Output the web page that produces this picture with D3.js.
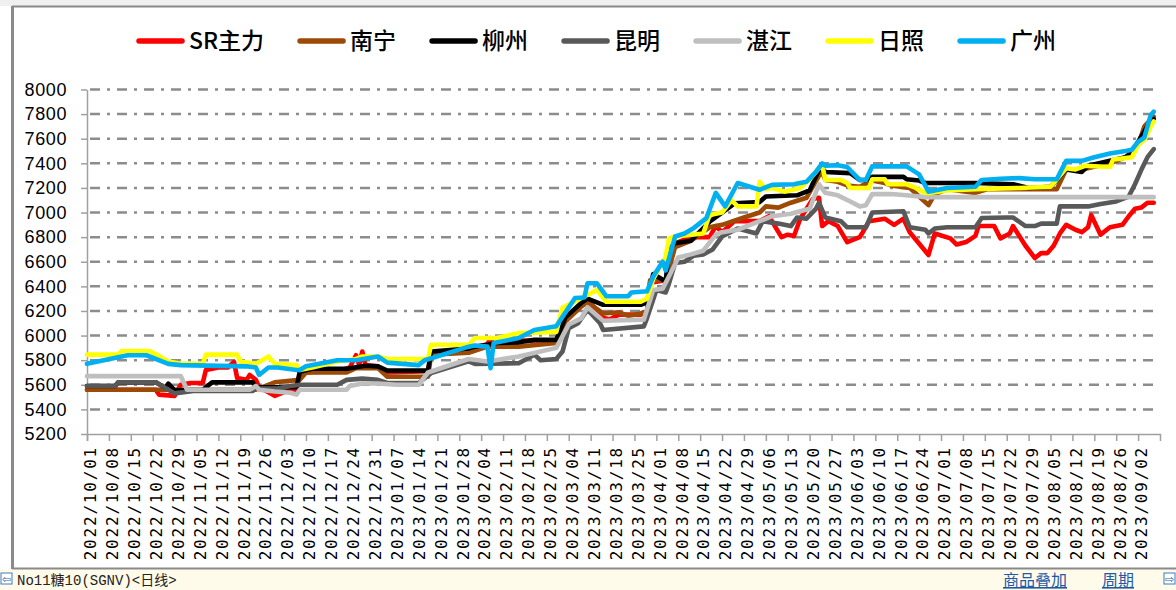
<!DOCTYPE html>
<html>
<head>
<meta charset="utf-8">
<script src="https://cdn.jsdelivr.net/npm/d3@7"></script>
<style>
  body { margin: 0; background: #fff; }
  svg { display: block; }
</style>
</head>
<body>
<script>
'use strict';

(function () {

  // weekly labels on the x axis
  const tickLabels = [
    "2022/10/01", "2022/10/08", "2022/10/15", "2022/10/22", "2022/10/29",
    "2022/11/05", "2022/11/12", "2022/11/19", "2022/11/26", "2022/12/03",
    "2022/12/10", "2022/12/17", "2022/12/24", "2022/12/31", "2023/01/07",
    "2023/01/14", "2023/01/21", "2023/01/28", "2023/02/04", "2023/02/11",
    "2023/02/18", "2023/02/25", "2023/03/04", "2023/03/11", "2023/03/18",
    "2023/03/25", "2023/04/01", "2023/04/08", "2023/04/15", "2023/04/22",
    "2023/04/29", "2023/05/06", "2023/05/13", "2023/05/20", "2023/05/27",
    "2023/06/03", "2023/06/10", "2023/06/17", "2023/06/24", "2023/07/01",
    "2023/07/08", "2023/07/15", "2023/07/22", "2023/07/29", "2023/08/05",
    "2023/08/12", "2023/08/19", "2023/08/26", "2023/09/02"
  ];
  const xDomain = ["2022/10/01", "2023/09/09"];
  const yTicks = [5200, 5400, 5600, 5800, 6000, 6200, 6400, 6600, 6800, 7000, 7200, 7400, 7600, 7800, 8000];

  const seriesNames = ["SR主力", "南宁", "柳州", "昆明", "湛江", "日照", "广州"];
  const seriesColors = ["#ff0000", "#9c4a06", "#000000", "#595959", "#bfbfbf", "#ffff00", "#00b0f0"];

  // SR主力
  const srData = [
    ["2022/10/01", 5560], ["2022/10/23", 5560], ["2022/10/24", 5520], ["2022/10/29", 5510], ["2022/10/30", 5560],
    ["2022/10/31", 5600], ["2022/11/03", 5615], ["2022/11/07", 5615], ["2022/11/08", 5720], ["2022/11/12", 5740],
    ["2022/11/15", 5740], ["2022/11/17", 5785], ["2022/11/18", 5655], ["2022/11/21", 5640], ["2022/11/22", 5680],
    ["2022/11/24", 5640], ["2022/11/25", 5580], ["2022/11/28", 5540], ["2022/11/30", 5510], ["2022/12/01", 5520],
    ["2022/12/05", 5560], ["2022/12/07", 5560], ["2022/12/08", 5695], ["2022/12/12", 5705], ["2022/12/20", 5710],
    ["2022/12/24", 5740], ["2022/12/26", 5840], ["2022/12/27", 5760], ["2022/12/28", 5870], ["2022/12/29", 5760],
    ["2023/01/02", 5750], ["2023/01/05", 5700], ["2023/01/18", 5710], ["2023/01/19", 5860], ["2023/01/31", 5890],
    ["2023/02/06", 5930], ["2023/02/07", 5980], ["2023/02/08", 5930], ["2023/02/16", 5960], ["2023/02/28", 5960],
    ["2023/03/03", 6130], ["2023/03/08", 6255], ["2023/03/10", 6290], ["2023/03/15", 6145], ["2023/03/17", 6130],
    ["2023/03/20", 6170], ["2023/03/27", 6170], ["2023/03/29", 6190], ["2023/03/30", 6430], ["2023/04/04", 6450],
    ["2023/04/07", 6750], ["2023/04/12", 6800], ["2023/04/18", 6800], ["2023/04/20", 6890], ["2023/04/22", 6840],
    ["2023/04/26", 6930], ["2023/05/04", 6930], ["2023/05/07", 6970], ["2023/05/11", 6800], ["2023/05/13", 6820],
    ["2023/05/15", 6810], ["2023/05/17", 6950], ["2023/05/21", 7110], ["2023/05/23", 7120], ["2023/05/24", 6890],
    ["2023/05/26", 6930], ["2023/05/29", 6890], ["2023/06/01", 6760], ["2023/06/05", 6800], ["2023/06/06", 6840],
    ["2023/06/08", 6930], ["2023/06/13", 6950], ["2023/06/16", 6900], ["2023/06/19", 6950], ["2023/06/21", 6840],
    ["2023/06/27", 6655], ["2023/06/29", 6830], ["2023/07/04", 6790], ["2023/07/06", 6740], ["2023/07/09", 6760],
    ["2023/07/12", 6810], ["2023/07/13", 6890], ["2023/07/18", 6890], ["2023/07/20", 6790], ["2023/07/23", 6830],
    ["2023/07/24", 6890], ["2023/07/28", 6730], ["2023/07/31", 6630], ["2023/08/02", 6670], ["2023/08/04", 6670],
    ["2023/08/06", 6730], ["2023/08/08", 6830], ["2023/08/10", 6900], ["2023/08/13", 6860], ["2023/08/15", 6840],
    ["2023/08/17", 6880], ["2023/08/18", 6980], ["2023/08/21", 6820], ["2023/08/24", 6880], ["2023/08/28", 6900],
    ["2023/08/30", 6970], ["2023/09/01", 7030], ["2023/09/03", 7040], ["2023/09/05", 7080], ["2023/09/07", 7080]
  ];

  // 南宁
  const nanningData = [
    ["2022/10/01", 5560], ["2022/11/24", 5560], ["2022/11/30", 5620], ["2022/12/08", 5640], ["2022/12/10", 5700],
    ["2022/12/23", 5700], ["2022/12/26", 5735], ["2023/01/02", 5735], ["2023/01/05", 5665], ["2023/01/18", 5665],
    ["2023/01/19", 5845], ["2023/01/31", 5860], ["2023/02/06", 5910], ["2023/02/16", 5910], ["2023/02/28", 5940],
    ["2023/03/03", 6115], ["2023/03/08", 6235], ["2023/03/10", 6270], ["2023/03/15", 6180], ["2023/03/20", 6190],
    ["2023/03/23", 6160], ["2023/03/27", 6180], ["2023/03/29", 6200], ["2023/03/30", 6450], ["2023/04/04", 6450],
    ["2023/04/07", 6720], ["2023/04/12", 6770], ["2023/04/18", 6880], ["2023/04/22", 6900], ["2023/04/29", 6960],
    ["2023/05/04", 7000], ["2023/05/06", 7050], ["2023/05/10", 7040], ["2023/05/14", 7080], ["2023/05/19", 7120],
    ["2023/05/23", 7300], ["2023/05/24", 7330], ["2023/05/25", 7265], ["2023/05/29", 7250], ["2023/06/01", 7220],
    ["2023/06/05", 7210], ["2023/06/09", 7260], ["2023/06/13", 7240], ["2023/06/15", 7220], ["2023/06/21", 7200],
    ["2023/06/24", 7130], ["2023/06/27", 7060], ["2023/06/29", 7150], ["2023/07/03", 7190], ["2023/07/12", 7160],
    ["2023/07/16", 7190], ["2023/08/07", 7190], ["2023/08/10", 7350], ["2023/08/15", 7350], ["2023/08/24", 7400],
    ["2023/08/30", 7460], ["2023/09/02", 7550], ["2023/09/04", 7700], ["2023/09/07", 7780]
  ];

  // 柳州
  const liuzhouData = [
    ["2022/10/01", 5590], ["2022/10/10", 5590], ["2022/10/11", 5620], ["2022/10/23", 5620], ["2022/10/26", 5575],
    ["2022/10/27", 5610], ["2022/10/29", 5555], ["2022/11/07", 5560], ["2022/11/10", 5620], ["2022/11/23", 5620],
    ["2022/11/24", 5580], ["2022/12/07", 5580], ["2022/12/08", 5705], ["2022/12/12", 5730], ["2022/12/23", 5730],
    ["2022/12/29", 5755], ["2023/01/02", 5750], ["2023/01/05", 5715], ["2023/01/18", 5715], ["2023/01/19", 5870],
    ["2023/01/31", 5895], ["2023/02/02", 5910], ["2023/02/09", 5940], ["2023/02/16", 5945], ["2023/02/21", 5965],
    ["2023/02/28", 5965], ["2023/03/03", 6150], ["2023/03/08", 6265], ["2023/03/10", 6300], ["2023/03/15", 6250],
    ["2023/03/27", 6250], ["2023/03/29", 6270], ["2023/03/31", 6500], ["2023/04/04", 6440], ["2023/04/05", 6700],
    ["2023/04/07", 6750], ["2023/04/12", 6770], ["2023/04/18", 6925], ["2023/04/22", 7000], ["2023/04/26", 7075],
    ["2023/05/04", 7085], ["2023/05/06", 7130], ["2023/05/16", 7140], ["2023/05/20", 7180], ["2023/05/23", 7345],
    ["2023/05/24", 7360], ["2023/05/25", 7330], ["2023/06/02", 7320], ["2023/06/05", 7265], ["2023/06/07", 7265],
    ["2023/06/09", 7290], ["2023/06/19", 7290], ["2023/06/20", 7270], ["2023/06/24", 7260], ["2023/06/26", 7240],
    ["2023/07/12", 7240], ["2023/07/24", 7230], ["2023/07/29", 7200], ["2023/08/05", 7210], ["2023/08/10", 7350],
    ["2023/08/15", 7330], ["2023/08/17", 7380], ["2023/08/24", 7420], ["2023/08/29", 7450], ["2023/08/31", 7490],
    ["2023/09/04", 7660], ["2023/09/06", 7750], ["2023/09/07", 7760]
  ];

  // 昆明
  const kunmingData = [
    ["2022/10/01", 5590], ["2022/10/10", 5590], ["2022/10/11", 5620], ["2022/10/23", 5620], ["2022/10/29", 5530],
    ["2022/11/04", 5550], ["2022/11/23", 5550], ["2022/11/24", 5590], ["2022/11/25", 5570], ["2022/12/01", 5570],
    ["2022/12/05", 5590], ["2022/12/08", 5600], ["2022/12/20", 5600], ["2022/12/23", 5640], ["2022/12/28", 5650],
    ["2023/01/02", 5640], ["2023/01/05", 5615], ["2023/01/15", 5615], ["2023/01/19", 5695], ["2023/01/31", 5790],
    ["2023/02/02", 5770], ["2023/02/16", 5775], ["2023/02/21", 5845], ["2023/02/23", 5800], ["2023/02/28", 5810],
    ["2023/03/02", 5870], ["2023/03/04", 6060], ["2023/03/07", 6100], ["2023/03/10", 6210], ["2023/03/14", 6100],
    ["2023/03/15", 6045], ["2023/03/28", 6075], ["2023/03/29", 6140], ["2023/04/01", 6370], ["2023/04/04", 6350],
    ["2023/04/05", 6420], ["2023/04/07", 6590], ["2023/04/10", 6600], ["2023/04/13", 6650], ["2023/04/16", 6660],
    ["2023/04/19", 6700], ["2023/04/22", 6805], ["2023/04/27", 6870], ["2023/05/03", 6830], ["2023/05/05", 6930],
    ["2023/05/10", 6910], ["2023/05/14", 6890], ["2023/05/16", 6960], ["2023/05/19", 6950], ["2023/05/22", 7030],
    ["2023/05/23", 7080], ["2023/05/25", 6960], ["2023/05/30", 6930], ["2023/06/01", 6880], ["2023/06/07", 6880],
    ["2023/06/09", 7000], ["2023/06/19", 7010], ["2023/06/21", 6880], ["2023/06/26", 6860], ["2023/06/27", 6830],
    ["2023/06/29", 6870], ["2023/07/03", 6880], ["2023/07/12", 6880], ["2023/07/14", 6955], ["2023/07/22", 6960],
    ["2023/07/24", 6960], ["2023/07/28", 6890], ["2023/07/31", 6890], ["2023/08/02", 6910], ["2023/08/07", 6910],
    ["2023/08/08", 7050], ["2023/08/17", 7050], ["2023/08/21", 7070], ["2023/08/26", 7090], ["2023/08/30", 7130],
    ["2023/09/01", 7230], ["2023/09/03", 7345], ["2023/09/05", 7450], ["2023/09/07", 7515]
  ];

  // 湛江
  const zhanjiangData = [
    ["2022/10/01", 5670], ["2022/10/31", 5670], ["2022/11/02", 5560], ["2022/11/22", 5560], ["2022/11/24", 5590],
    ["2022/11/25", 5560], ["2022/11/30", 5545], ["2022/12/05", 5535], ["2022/12/07", 5520], ["2022/12/08", 5560],
    ["2022/12/23", 5560], ["2022/12/24", 5590], ["2022/12/28", 5610], ["2023/01/02", 5610], ["2023/01/08", 5600],
    ["2023/01/15", 5600], ["2023/01/18", 5700], ["2023/01/31", 5810], ["2023/02/06", 5790], ["2023/02/16", 5830],
    ["2023/02/28", 5900], ["2023/03/04", 6090], ["2023/03/08", 6140], ["2023/03/10", 6230], ["2023/03/15", 6120],
    ["2023/03/28", 6130], ["2023/03/31", 6370], ["2023/04/03", 6380], ["2023/04/07", 6580], ["2023/04/08", 6635],
    ["2023/04/12", 6660], ["2023/04/16", 6690], ["2023/04/20", 6820], ["2023/04/22", 6840], ["2023/04/27", 6860],
    ["2023/05/04", 6930], ["2023/05/08", 6970], ["2023/05/14", 6990], ["2023/05/20", 7030], ["2023/05/23", 7230],
    ["2023/05/25", 7160], ["2023/05/29", 7140], ["2023/06/02", 7090], ["2023/06/05", 7050], ["2023/06/07", 7060],
    ["2023/06/09", 7150], ["2023/06/15", 7150], ["2023/06/20", 7140], ["2023/06/26", 7125], ["2023/09/07", 7125]
  ];

  // 日照
  const rizhaoData = [
    ["2022/10/01", 5845], ["2022/10/11", 5845], ["2022/10/12", 5875], ["2022/10/21", 5875], ["2022/10/24", 5835],
    ["2022/10/27", 5790], ["2022/10/31", 5770], ["2022/11/07", 5770], ["2022/11/08", 5845], ["2022/11/18", 5845],
    ["2022/11/19", 5790], ["2022/11/24", 5770], ["2022/11/28", 5830], ["2022/11/30", 5770], ["2022/12/07", 5760],
    ["2022/12/08", 5720], ["2022/12/12", 5740], ["2022/12/20", 5790], ["2022/12/26", 5810], ["2022/12/28", 5830],
    ["2023/01/02", 5830], ["2023/01/05", 5810], ["2023/01/18", 5810], ["2023/01/19", 5925], ["2023/01/31", 5925],
    ["2023/02/02", 5980], ["2023/02/09", 5980], ["2023/02/16", 6020], ["2023/02/28", 6030], ["2023/03/02", 6225],
    ["2023/03/08", 6305], ["2023/03/13", 6370], ["2023/03/16", 6275], ["2023/03/27", 6275], ["2023/03/29", 6300],
    ["2023/03/31", 6460], ["2023/04/04", 6640], ["2023/04/05", 6790], ["2023/04/07", 6805], ["2023/04/16", 6830],
    ["2023/04/18", 6980], ["2023/04/22", 7000], ["2023/04/25", 7100], ["2023/04/27", 7050], ["2023/05/03", 7050],
    ["2023/05/04", 7250], ["2023/05/06", 7190], ["2023/05/08", 7200], ["2023/05/12", 7170], ["2023/05/17", 7200],
    ["2023/05/20", 7270], ["2023/05/24", 7390], ["2023/05/25", 7265], ["2023/05/30", 7265], ["2023/06/01", 7240],
    ["2023/06/02", 7200], ["2023/06/08", 7200], ["2023/06/09", 7270], ["2023/06/13", 7270], ["2023/06/14", 7230],
    ["2023/06/20", 7230], ["2023/06/23", 7200], ["2023/06/26", 7160], ["2023/06/27", 7160], ["2023/07/03", 7180],
    ["2023/07/12", 7190], ["2023/07/26", 7200], ["2023/08/05", 7210], ["2023/08/10", 7360], ["2023/08/13", 7350],
    ["2023/08/16", 7380], ["2023/08/24", 7370], ["2023/08/25", 7430], ["2023/08/31", 7450], ["2023/09/02", 7550],
    ["2023/09/04", 7590], ["2023/09/06", 7700], ["2023/09/07", 7740]
  ];

  // 广州
  const guangzhouData = [
    ["2022/10/01", 5770], ["2022/10/14", 5840], ["2022/10/20", 5840], ["2022/10/27", 5770], ["2022/10/31", 5760],
    ["2022/11/21", 5750], ["2022/11/24", 5740], ["2022/11/25", 5680], ["2022/11/28", 5740], ["2022/12/01", 5740],
    ["2022/12/07", 5720], ["2022/12/08", 5720], ["2022/12/10", 5750], ["2022/12/20", 5800], ["2022/12/26", 5800],
    ["2023/01/02", 5830], ["2023/01/05", 5780], ["2023/01/15", 5760], ["2023/01/17", 5800], ["2023/01/31", 5910],
    ["2023/02/02", 5920], ["2023/02/06", 5910], ["2023/02/07", 5735], ["2023/02/08", 5940], ["2023/02/16", 5980],
    ["2023/02/21", 6045], ["2023/02/28", 6075], ["2023/03/06", 6305], ["2023/03/09", 6310], ["2023/03/10", 6425],
    ["2023/03/13", 6425], ["2023/03/16", 6320], ["2023/03/23", 6320], ["2023/03/24", 6350], ["2023/03/29", 6360],
    ["2023/03/31", 6480], ["2023/04/03", 6600], ["2023/04/04", 6530], ["2023/04/07", 6805], ["2023/04/10", 6830],
    ["2023/04/13", 6875], ["2023/04/17", 6955], ["2023/04/20", 7160], ["2023/04/23", 7050], ["2023/04/27", 7240],
    ["2023/05/04", 7185], ["2023/05/08", 7225], ["2023/05/15", 7230], ["2023/05/19", 7250], ["2023/05/22", 7330],
    ["2023/05/24", 7400], ["2023/05/25", 7380], ["2023/05/29", 7385], ["2023/06/01", 7370], ["2023/06/05", 7265],
    ["2023/06/07", 7265], ["2023/06/09", 7375], ["2023/06/20", 7375], ["2023/06/24", 7310], ["2023/06/27", 7170],
    ["2023/07/03", 7200], ["2023/07/12", 7210], ["2023/07/14", 7265], ["2023/07/20", 7275], ["2023/07/26", 7280],
    ["2023/07/31", 7270], ["2023/08/07", 7270], ["2023/08/10", 7420], ["2023/08/15", 7420], ["2023/08/19", 7450],
    ["2023/08/24", 7480], ["2023/08/29", 7500], ["2023/08/31", 7510], ["2023/09/02", 7575], ["2023/09/04", 7610],
    ["2023/09/06", 7790], ["2023/09/07", 7820]
  ];

  const allSeries = [srData, nanningData, liuzhouData, kunmingData, zhanjiangData, rizhaoData, guangzhouData];

  const parseDate = d3.timeParse("%Y/%m/%d");
  let svgContainer = "";

  window.onload = function () {
    svgContainer = d3.select('body')
      .append('svg')
      .attr('width', 1176)
      .attr('height', 590);

    drawFrame();
    let scales = drawAxes();
    plotData(scales);
    makeLegend();
    makeStatusBar();
  }

  // window border around the chart
  function drawFrame() {
    svgContainer.append('rect')
      .attr('x', 0).attr('y', 0)
      .attr('width', 1176).attr('height', 6)
      .attr('fill', '#f0f0f0');
    svgContainer.append('line')
      .attr('x1', 12).attr('x2', 1176)
      .attr('y1', 6.5).attr('y2', 6.5)
      .attr('stroke', '#8a8a8a')
      .attr('stroke-width', 2);
    svgContainer.append('line')
      .attr('x1', 12.5).attr('x2', 12.5)
      .attr('y1', 6).attr('y2', 569)
      .attr('stroke', '#8a8a8a')
      .attr('stroke-width', 3);
  }

  function drawAxes() {
    let xScale = d3.scaleTime()
      .domain(xDomain.map(parseDate))
      .range([87, 1160]);

    let yScale = d3.scaleLinear()
      .domain([5200, 8000])
      .range([434, 89.5]);

    // dash-dot horizontal grid
    svgContainer.append('g')
      .selectAll('line')
      .data(yTicks.slice(1))
      .enter()
      .append('line')
      .attr('x1', 90)
      .attr('x2', 1160)
      .attr('y1', (d) => yScale(d))
      .attr('y2', (d) => yScale(d))
      .attr('stroke', '#8c8c8c')
      .attr('stroke-width', 2.5)
      .attr('stroke-dasharray', '10,7,3,7');

    // y axis
    let yAxis = d3.axisLeft(yScale)
      .tickValues(yTicks)
      .tickSize(6)
      .tickSizeOuter(0)
      .tickPadding(14)
      .tickFormat(d3.format('d'));
    let yG = svgContainer.append('g')
      .attr('transform', 'translate(87, 0)')
      .call(yAxis);
    yG.selectAll('path, line').attr('stroke', '#a0a0a0').attr('stroke-width', 1.5);
    yG.selectAll('text')
      .style('font-family', '"Liberation Sans Narrow", "Arial Narrow", sans-serif')
      .style('font-size', '18px')
      .style('letter-spacing', '0.6px')
      .attr('fill', '#000');

    // x axis with one tick per week
    let xAxis = d3.axisBottom(xScale)
      .tickValues(tickLabels.map(parseDate))
      .tickSize(7)
      .tickSizeOuter(7)
      .tickFormat(d3.timeFormat("%Y/%m/%d"));
    let xG = svgContainer.append('g')
      .attr('transform', 'translate(0, 434)')
      .call(xAxis);
    xG.selectAll('path, line').attr('stroke', '#a0a0a0').attr('stroke-width', 1.5);
    xG.selectAll('text')
      .attr('transform', 'rotate(-90)')
      .attr('x', -12)
      .attr('y', 0)
      .attr('dy', '0.55em')
      .style('text-anchor', 'end')
      .style('font-family', '"DejaVu Sans Mono", monospace')
      .style('font-size', '16px')
      .style('letter-spacing', '1.8px')
      .attr('fill', '#000');

    return { x: xScale, y: yScale };
  }

  function plotData(scales) {
    let line = d3.line()
      .x((d) => scales.x(parseDate(d[0])))
      .y((d) => scales.y(d[1]));

    svgContainer.append('g')
      .selectAll('path')
      .data(allSeries)
      .enter()
      .append('path')
      .attr('d', line)
      .attr('fill', 'none')
      .attr('stroke', (d, i) => seriesColors[i])
      .attr('stroke-width', 4.6)
      .attr('stroke-linejoin', 'round')
      .attr('stroke-linecap', 'round');
  }

  function makeLegend() {
    let legend = svgContainer.append('g');
    let xPos = 139;
    seriesNames.forEach(function (name, i) {
      legend.append('line')
        .attr('x1', xPos).attr('x2', xPos + 43)
        .attr('y1', 41).attr('y2', 41)
        .attr('stroke', seriesColors[i])
        .attr('stroke-width', 5.5)
        .attr('stroke-linecap', 'round');
      let label = legend.append('text')
        .attr('x', xPos + 50)
        .attr('y', 49)
        .style('font-family', '"Noto Sans CJK SC", sans-serif')
        .style('font-size', '23px')
        .style('font-weight', 500)
        .attr('fill', '#000')
        .text(name);
      xPos += 50 + label.node().getComputedTextLength() + 36;
    });
  }

  // status strip under the chart
  function makeStatusBar() {
    svgContainer.append('rect')
      .attr('x', 0).attr('y', 569)
      .attr('width', 1176).attr('height', 21)
      .attr('fill', '#fffbea');
    svgContainer.append('line')
      .attr('x1', 12).attr('x2', 1176)
      .attr('y1', 568.5).attr('y2', 568.5)
      .attr('stroke', '#8a8a8a')
      .attr('stroke-width', 2);

    // small arrow buttons on both ends
    [1, 1164].forEach(function (bx, i) {
      svgContainer.append('rect')
        .attr('x', bx).attr('y', 573)
        .attr('width', 11).attr('height', 11)
        .attr('fill', '#fff')
        .attr('stroke', '#3a7dc0')
        .attr('stroke-width', 1);
      svgContainer.append('text')
        .attr('x', bx + 5.5).attr('y', 583)
        .attr('text-anchor', 'middle')
        .style('font-family', '"DejaVu Sans", sans-serif')
        .style('font-size', '11px')
        .attr('fill', '#1f5fa8')
        .text(i == 0 ? '⇦' : '⇨');
    });

    svgContainer.append('text')
      .attr('x', 17).attr('y', 585)
      .style('font-family', '"Liberation Mono", "Noto Sans CJK SC", monospace')
      .style('font-size', '14px')
      .attr('fill', '#222')
      .text('No11糖10(SGNV)<日线>');

    [["商品叠加", 1003], ["周期", 1102]].forEach(function (item) {
      svgContainer.append('text')
        .attr('x', item[1]).attr('y', 586)
        .style('font-family', '"Noto Sans CJK SC", sans-serif')
        .style('font-size', '16px')
        .style('text-decoration', 'underline')
        .attr('fill', '#1d5aa8')
        .text(item[0]);
    });
  }
})();
</script>
</body>
</html>
